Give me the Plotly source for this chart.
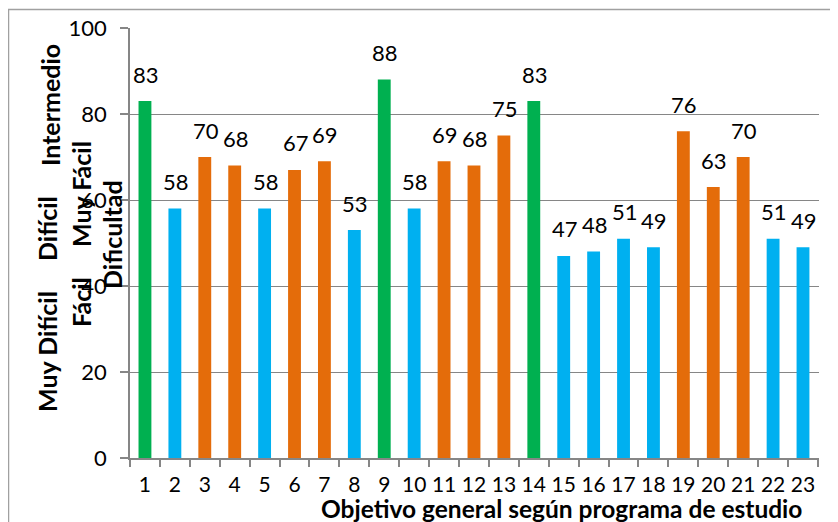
import plotly.graph_objects as go

# Data
objetivos = [str(i) for i in range(1, 24)]
dificultad = [83, 58, 70, 68, 58, 67, 69, 53, 88, 58, 69, 68, 75, 83,
              47, 48, 51, 49, 76, 63, 70, 51, 49]
nivel = ["F", "D", "I", "I", "D", "I", "I", "D", "F", "D", "I", "I", "I", "F",
         "D", "D", "D", "D", "I", "I", "I", "D", "D"]
colores_nivel = {"F": "#00B050", "I": "#E46C0A", "D": "#00B0F0"}

# page is shown with the browser's 8px body margin
OFF = 8
W, H = 838, 522
L, R, T, B = 130 - OFF, W - (819 - OFF), 28 - OFF, H - (458 - OFF)
pw, ph = W - L - R, H - T - B
FONT = "Lato, 'Open Sans', sans-serif"


def px_x(x):
    # page pixel -> paper fraction
    return (x - OFF - L) / pw


def px_y(y):
    return (H - B - (y - OFF)) / ph


fig = go.Figure()
fig.add_trace(
    go.Bar(
        x=objetivos,
        y=dificultad,
        marker=dict(color=[colores_nivel[n] for n in nivel], line=dict(width=0)),
        showlegend=False,
    )
)

# Data labels (category index positions)
for i, val in enumerate(dificultad):
    fig.add_annotation(
        x=i, y=val, text=str(val), showarrow=False,
        yanchor="middle", yshift=27, xshift=1,
        font=dict(size=22, color="#000000", family=FONT),
    )

# Overlapping y-axis title texts (as in the original)
ylabels = [
    ("Muy Difícil", 47, 352),
    ("Difícil", 47, 229),
    ("Intermedio", 50, 105),
    ("Fácil", 81, 302),
    ("Muy Fácil", 81, 194),
    ("Dificultad", 112, 235),
]
for txt, xp, yp in ylabels:
    fig.add_annotation(
        x=px_x(xp), y=px_y(yp), xref="paper", yref="paper",
        text=f"<b>{txt}</b>", textangle=-90, showarrow=False,
        xanchor="center", yanchor="middle",
        font=dict(size=25, color="#000000", family=FONT),
    )

fig.add_annotation(
    x=px_x(561), y=px_y(508), xref="paper", yref="paper",
    text="<b>Objetivo general según programa de estudio</b>", showarrow=False,
    xanchor="center", yanchor="middle",
    font=dict(size=24.5, color="#000000", family=FONT),
)

# Chart frame
fig.add_shape(
    type="rect", xref="paper", yref="paper",
    x0=px_x(8.5), x1=px_x(W + 40), y0=px_y(H + 40), y1=px_y(9.5),
    line=dict(color="#A0A0A0", width=1.5), fillcolor="rgba(0,0,0,0)",
    layer="below",
)

fig.update_layout(
    width=W,
    height=H,
    margin=dict(l=L, r=R, t=T, b=B, autoexpand=False),
    paper_bgcolor="white",
    plot_bgcolor="white",
    bargap=0.57,
    font=dict(family=FONT, size=22, color="#000000"),
    xaxis=dict(
        type="category", automargin=False,
        showline=True, linecolor="#868686", linewidth=1.5,
        ticks="outside", tickson="boundaries", ticklen=7,
        tickcolor="#868686", tickwidth=1.5,
        showgrid=False, ticklabelstandoff=7, tickangle=0,
        tickfont=dict(size=21, family=FONT),
    ),
    yaxis=dict(
        range=[0, 100], dtick=20, automargin=False,
        showline=True, linecolor="#868686", linewidth=1.5,
        ticks="outside", ticklen=8, tickcolor="#868686", tickwidth=1.5,
        showgrid=True, gridcolor="#868686", gridwidth=1.2,
        zeroline=False, ticklabelstandoff=9,
        tickfont=dict(size=22, family=FONT),
    ),
)

fig.write_html("out.html")
